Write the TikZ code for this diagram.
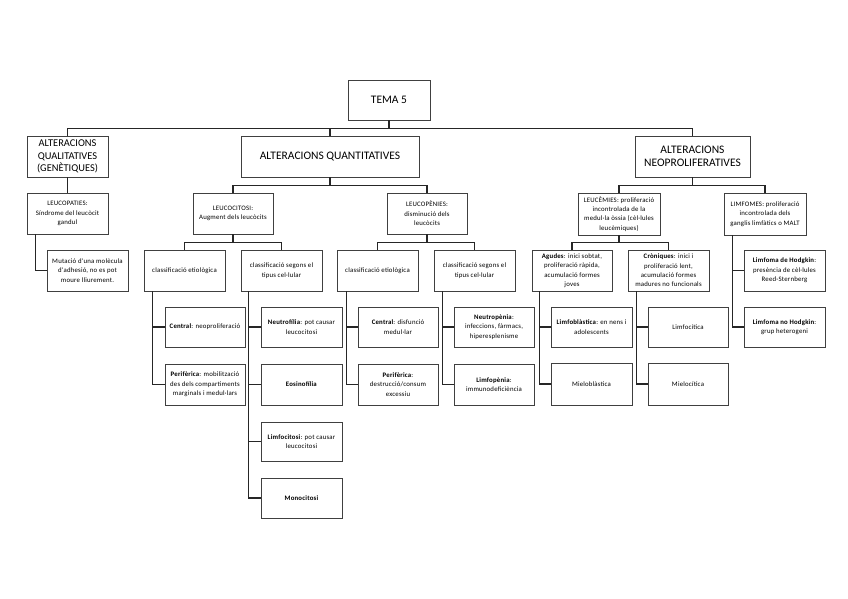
\documentclass[tikz,border=0pt]{standalone}
\usepackage{fontspec}
\setmainfont{Carlito}
\newfontfamily\smallfnt[LetterSpace=3]{Carlito}
\begin{document}
\begin{tikzpicture}[x=1pt,y=-1pt,
  box/.style={draw=black!75, line width=0.8pt, fill=white, align=center, inner sep=1pt},
  big/.style={box, font=\fontsize{11.5}{12.5}\selectfont},
  sm/.style={box, minimum width=81pt, minimum height=41pt, font=\smallfnt\fontsize{6.8}{9.4}\selectfont},
  conn/.style={draw=black!85, line width=1.5pt}]
\useasboundingbox (0,0) rectangle (848,599);
% level 0/1
\node[big, minimum width=82pt, minimum height=40pt] (tema) at (389,100) {TEMA 5};
\node[big, minimum width=81pt, minimum height=41pt, font=\fontsize{10.4}{12.5}\selectfont] (qual) at (67.5,156.5) {ALTERACIONS\\QUALITATIVES\\(GENÈTIQUES)};
\node[big, minimum width=178pt, minimum height=41pt] (quant) at (330,156.5) {ALTERACIONS QUANTITATIVES};
\node[big, minimum width=115pt, minimum height=41pt] (neo) at (692.5,156.5) {ALTERACIONS\\NEOPROLIFERATIVES};
% qualitatives
\node[sm] (leucopaties) at (67.5,213.5) {LEUCOPATIES:\\Síndrome del leucòcit\\gandul};
\node[sm] (mutacio) at (87.5,270.5) {Mutació d'una molècula\\d'adhesió, no es pot\\moure lliurement.};
% quantitatives
\node[sm, minimum width=80pt] (leucocitosi) at (233,213.5) {LEUCOCITOSI:\\Augment dels leucòcits};
\node[sm, minimum width=80pt] (leucopenies) at (427,213.5) {LEUCOPÈNIES:\\disminució dels\\leucòcits};
\node[sm] (etioA) at (184.5,270.5) {classificació etiològica};
\node[sm] (tipusA) at (281.5,270.5) {classificació segons el\\tipus cel·lular};
\node[sm] (etioB) at (377.5,270.5) {classificació etiològica};
\node[sm] (tipusB) at (474.5,270.5) {classificació segons el\\tipus cel·lular};
\node[sm, minimum width=80pt, minimum height=40pt] (centralA) at (205,327) {\textbf{Central}: neoproliferació};
\node[sm, minimum width=80pt] (perifA) at (205,384.5) {\textbf{Perifèrica}: mobilització\\des dels compartiments\\marginals i medul·lars};
\node[sm, minimum height=40pt] (neutrofilia) at (301.5,327) {\textbf{Neutrofília}: pot causar\\leucocitosi};
\node[sm] (eosinofilia) at (301.5,384.5) {\textbf{Eosinofília}};
\node[sm, minimum height=39pt] (limfocitosi) at (301.5,441.5) {\textbf{Limfocitosi}: pot causar\\leucocitosi};
\node[sm, minimum height=40pt] (monocitosi) at (301.5,498) {\textbf{Monocitosi}};
\node[sm, minimum width=80pt, minimum height=40pt] (centralB) at (398,327) {\textbf{Central}: disfunció\\medul·lar};
\node[sm, minimum width=80pt] (perifB) at (398,384.5) {\textbf{Perifèrica}:\\destrucció/consum\\excessiu};
\node[sm, minimum width=80pt, minimum height=40pt] (neutropenia) at (494,327) {\textbf{Neutropènia}:\\infeccions, fàrmacs,\\hiperesplenisme};
\node[sm, minimum width=80pt] (limfopenia) at (494,384.5) {\textbf{Limfopènia}:\\immunodeficiència};
% neoproliferatives
\node[sm, minimum width=82pt, minimum height=42pt] (leucemies) at (619,214) {LEUCÈMIES: proliferació\\incontrolada de la\\medul·la òssia (cèl·lules\\leucèmiques)};
\node[sm, minimum width=82pt, minimum height=42pt] (limfomes) at (765,214) {LIMFOMES: proliferació\\incontrolada dels\\ganglis limfàtics o MALT};
\node[sm, minimum width=80pt] (agudes) at (572,270.5) {\textbf{Agudes}: inici sobtat,\\proliferació ràpida,\\acumulació formes\\joves};
\node[sm] (croniques) at (668.5,270.5) {\textbf{Cròniques}: inici i\\proliferació lent,\\acumulació formes\\madures no funcionals};
\node[sm, minimum height=40pt] (limfoblastica) at (591.5,327) {\textbf{Limfoblàstica}: en nens i\\adolescents};
\node[sm, minimum height=42pt] (mieloblastica) at (591.5,384) {Mieloblàstica};
\node[sm, minimum width=80pt, minimum height=40pt] (limfocitica) at (688,327) {Limfocítica};
\node[sm, minimum width=80pt, minimum height=42pt] (mielocitica) at (688,384) {Mielocítica};
\node[sm] (hodgkin) at (784.5,270.5) {\textbf{Limfoma de Hodgkin}:\\presència de cèl·lules\\Reed-Sternberg};
\node[sm, minimum height=40pt] (nohodgkin) at (784.5,327) {\textbf{Limfoma no Hodgkin}:\\grup heterogeni};
% connectors
\draw[conn] (tema.south) -- ++(0,8) -| (qual.north);
\draw[conn] (tema.south) -- ++(0,8) -| (quant.north);
\draw[conn] (tema.south) -- ++(0,8) -| (neo.north);
\draw[conn] ([xshift=9pt]leucopaties.south west) |- (mutacio.west);
\draw[conn] (qual.south) -- (leucopaties.north);
\draw[conn] (quant.south) -- ++(0,8) -| (leucocitosi.north);
\draw[conn] (quant.south) -- ++(0,8) -| (leucopenies.north);
\draw[conn] (leucocitosi.south) -- ++(0,8) -| (etioA.north);
\draw[conn] (leucocitosi.south) -- ++(0,8) -| (tipusA.north);
\draw[conn] (leucopenies.south) -- ++(0,8) -| (etioB.north);
\draw[conn] (leucopenies.south) -- ++(0,8) -| (tipusB.north);
\draw[conn] ([xshift=9pt]etioA.south west) |- (centralA.west);
\draw[conn] ([xshift=9pt]etioA.south west) |- (perifA.west);
\draw[conn] ([xshift=8pt]tipusA.south west) |- (neutrofilia.west);
\draw[conn] ([xshift=8pt]tipusA.south west) |- (eosinofilia.west);
\draw[conn] ([xshift=8pt]tipusA.south west) |- (limfocitosi.west);
\draw[conn] ([xshift=8pt]tipusA.south west) |- (monocitosi.west);
\draw[conn] ([xshift=10pt]etioB.south west) |- (centralB.west);
\draw[conn] ([xshift=10pt]etioB.south west) |- (perifB.west);
\draw[conn] ([xshift=9pt]tipusB.south west) |- (neutropenia.west);
\draw[conn] ([xshift=9pt]tipusB.south west) |- (limfopenia.west);
\draw[conn] (neo.south) -- ++(0,8) -| (leucemies.north);
\draw[conn] (neo.south) -- ++(0,8) -| (limfomes.north);
\draw[conn] (leucemies.south) -- ++(0,7) -| (agudes.north);
\draw[conn] (leucemies.south) -- ++(0,7) -| (croniques.north);
\draw[conn] ([xshift=8pt]agudes.south west) |- (limfoblastica.west);
\draw[conn] ([xshift=8pt]agudes.south west) |- (mieloblastica.west);
\draw[conn] ([xshift=9pt]croniques.south west) |- (limfocitica.west);
\draw[conn] ([xshift=9pt]croniques.south west) |- (mielocitica.west);
\draw[conn] ([xshift=9pt]limfomes.south west) |- (hodgkin.west);
\draw[conn] ([xshift=9pt]limfomes.south west) |- (nohodgkin.west);
\end{tikzpicture}
\end{document}
